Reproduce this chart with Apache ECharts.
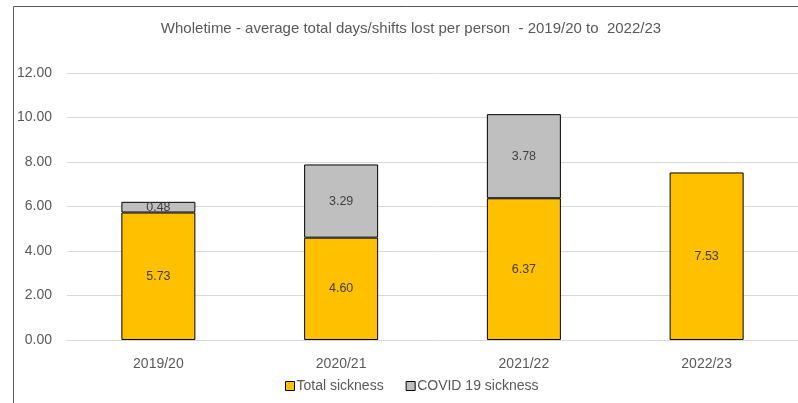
<!DOCTYPE html>
<html>
<head>
<meta charset="utf-8">
<script src="https://cdn.jsdelivr.net/npm/echarts@6/dist/echarts.min.js"></script>
<style>html,body{margin:0;padding:0;background:#fff;}#c{width:798px;height:403px;}</style>
</head>
<body>
<div id="c"></div>
<script>
const titleText = 'Wholetime - average total days/shifts lost per person  - 2019/20 to  2022/23';
const categories = ['2019/20', '2020/21', '2021/22', '2022/23'];
const totalSickness = [5.73, 4.60, 6.37, 7.53];
const covidSickness = [0.48, 3.29, 3.78, null];
const yTicks = [0, 2, 4, 6, 8, 10, 12];

const FONT = 'Liberation Sans';
const chart = echarts.init(document.getElementById('c'), null, {renderer: 'canvas'});
const labelStyle = {
  show: true, position: 'inside', color: '#404040', fontSize: 12.5, fontFamily: FONT,
  formatter: p => (p.value == null ? '' : Number(p.value).toFixed(2))
};
chart.setOption({
  animation: false,
  backgroundColor: '#fff',
  title: {
    text: titleText, left: 406, top: 16, textAlign: 'center',
    textStyle: {fontFamily: FONT, fontSize: 15, fontWeight: 'normal', color: '#595959'}
  },
  graphic: [{
    type: 'rect', shape: {x: 13.5, y: 6.5, width: 900, height: 500},
    style: {fill: 'none', stroke: '#595959', lineWidth: 1}, silent: true, z: 100
  }],
  legend: {
    bottom: 5, left: 280, itemWidth: 9, itemHeight: 9, itemGap: 22,
    icon: 'rect',
    textStyle: {fontFamily: FONT, fontSize: 14, color: '#595959', padding: [0, 0, 0, -3]},
    data: [
      {name: 'Total sickness', itemStyle: {color: '#FFC000', borderColor: '#000', borderWidth: 1}},
      {name: 'COVID 19 sickness', itemStyle: {color: '#BFBFBF', borderColor: '#000', borderWidth: 1}}
    ]
  },
  grid: {left: 67, top: 73, width: 735, bottom: 63, containLabel: false},
  xAxis: {
    type: 'category', data: categories,
    axisLine: {show: true, lineStyle: {color: '#d9d9d9'}},
    axisTick: {show: false},
    axisLabel: {fontFamily: FONT, fontSize: 14, color: '#595959', margin: 17}
  },
  yAxis: {
    type: 'value', min: yTicks[0], max: yTicks[yTicks.length - 1], interval: 2,
    axisLine: {show: false}, axisTick: {show: false},
    splitLine: {lineStyle: {color: '#d9d9d9'}},
    axisLabel: {fontFamily: FONT, fontSize: 14, color: '#595959', margin: 15,
      formatter: v => v.toFixed(2)}
  },
  series: [
    {
      name: 'Total sickness', type: 'bar', stack: 's', data: totalSickness, barWidth: 74,
      itemStyle: {color: '#FFC000', borderColor: '#000', borderWidth: 1},
      label: labelStyle
    },
    {
      name: 'COVID 19 sickness', type: 'bar', stack: 's', data: covidSickness, barWidth: 74,
      itemStyle: {color: '#BFBFBF', borderColor: '#000', borderWidth: 1},
      label: labelStyle
    }
  ]
});
</script>
</body>
</html>
